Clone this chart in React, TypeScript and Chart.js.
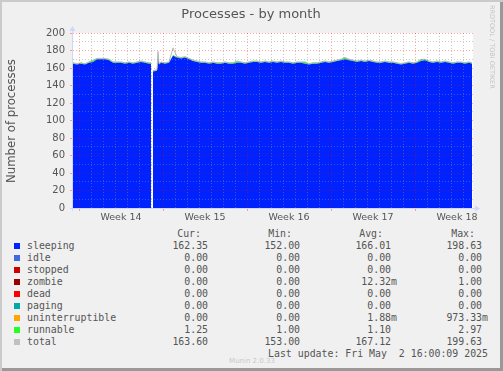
import React, { useEffect, useRef } from "react";
import { Chart, registerables } from "chart.js";

Chart.register(...registerables);

// Sample times in hours from the left edge of the graph (2 h per pixel)
const HOURS = [
  0, 8, 16, 24, 32, 40, 48, 56, 64, 72,
  80, 88, 96, 104, 112, 120, 128, 136, 144, 152,
  156, 158, 160, 168, 170, 172, 176, 184, 192, 200,
  208, 216, 224, 232, 240, 248, 256, 264, 272, 280,
  288, 296, 304, 312, 320, 328, 336, 344, 352, 360,
  368, 376, 384, 392, 400, 408, 416, 424, 432, 440,
  448, 456, 464, 472, 480, 488, 496, 504, 512, 520,
  528, 536, 544, 552, 560, 568, 576, 584, 592, 600,
  608, 616, 624, 632, 640, 648, 656, 664, 672, 680,
  688, 696, 704, 712, 720, 728, 736, 744, 752, 760,
  768, 776, 784, 792, 798,
];

const SLEEPING = [
  165, 164, 165, 164, 166, 167, 170, 170, 170, 169,
  166, 166, 166, 165, 166, 165, 166, 167, 166, 165,
  165, null, 156, 157, 175, 164, 166, 165, 166, 174,
  172, 171, 172, 170, 168, 167, 166, 166, 165, 166,
  165, 165, 166, 165, 165, 166, 166, 165, 166, 167,
  167, 166, 167, 166, 167, 166, 167, 166, 166, 165,
  166, 166, 165, 164, 165, 165, 166, 167, 166, 167,
  168, 169, 170, 169, 168, 167, 168, 167, 168, 167,
  166, 166, 167, 166, 166, 165, 164, 165, 166, 165,
  166, 168, 169, 167, 166, 167, 166, 167, 166, 165,
  166, 166, 165, 166, 165,
];

const RUNNABLE = [
  1, 1, 1, 1, 1, 2, 1, 1, 1, 1,
  1, 1, 1, 1, 1, 1, 1, 1, 1, 1,
  1, null, 1, 1, 3, 1, 1, 1, 1, 1,
  1, 1, 1, 1, 1, 1, 1, 1, 1, 1,
  1, 1, 1, 1, 1, 2, 1, 1, 1, 1,
  1, 1, 1, 1, 1, 1, 1, 1, 1, 1,
  1, 1, 2, 1, 1, 1, 1, 1, 1, 1,
  1, 1, 2, 1, 1, 1, 1, 1, 1, 1,
  1, 1, 1, 1, 1, 1, 1, 1, 1, 1,
  1, 2, 1, 1, 1, 1, 1, 1, 1, 1,
  1, 1, 1, 1, 1,
];

const TOTAL = [
  166, 165, 166, 165, 167, 169, 171, 171, 171, 170,
  167, 167, 167, 166, 167, 166, 167, 168, 167, 166,
  166, null, 157, 158, 179, 165, 167, 166, 167, 183,
  173, 172, 173, 171, 169, 168, 167, 167, 166, 167,
  166, 166, 167, 166, 166, 168, 167, 166, 167, 168,
  168, 167, 168, 167, 168, 167, 168, 167, 167, 166,
  167, 167, 167, 165, 166, 166, 167, 168, 167, 168,
  169, 170, 172, 170, 169, 168, 169, 168, 169, 168,
  167, 167, 168, 167, 167, 166, 165, 166, 167, 166,
  167, 170, 170, 168, 167, 168, 167, 168, 167, 166,
  167, 167, 166, 167, 166,
];

const X_MAX_HOURS = 800;
const DAY_LINES = Array.from({ length: 33 }, (_, k) => 12 + 24 * k);
const WEEK_LINES = [12, 180, 348, 516, 684];
const WEEK_LABEL_HOURS = [96, 264, 432, 600, 768];
const WEEK_LABELS = ["Week 14", "Week 15", "Week 16", "Week 17", "Week 18"];
const Y_GRID = [0, 10, 20, 30, 40, 50, 60, 70, 80, 90, 100, 110, 120, 130, 140, 150, 160, 170, 180, 190, 200];

const LEGEND_NAMES = ["sleeping", "idle", "stopped", "zombie", "dead", "paging", "uninterruptible", "runnable", "total"];
const LEGEND_COLORS = ["#0022ff", "#4169e1", "#cc0000", "#990000", "#ff0000", "#00aaaa", "#ffa500", "#22ff22", "#c0c0c0"];
const CUR = ["162.35", "0.00", "0.00", "0.00", "0.00", "0.00", "0.00", "1.25", "163.60"];
const MIN = ["152.00", "0.00", "0.00", "0.00", "0.00", "0.00", "0.00", "1.00", "153.00"];
const AVG = ["166.01", "0.00", "0.00", "12.32m", "0.00", "0.00", "1.88m", "1.10", "167.12"];
const MAX = ["198.63", "0.00", "0.00", "1.00", "0.00", "0.00", "973.33m", "2.97", "199.63"];

const FONT = "'DejaVu Sans', sans-serif";
const MONO = "'DejaVu Sans Mono', monospace";
const TEXT = "#555";
const MINOR = "rgba(140,140,140,0.45)";
const MAJOR = "rgba(255,0,0,0.35)";

const plotBg = {
  id: "plotBg",
  beforeDraw(chart: any) {
    const { ctx, chartArea: a } = chart;
    ctx.save();
    ctx.fillStyle = "#ffffff";
    ctx.fillRect(a.left, a.top, a.right - a.left, a.bottom - a.top);
    ctx.restore();
  },
};

const axesPlugin = {
  id: "axesArrows",
  afterDraw(chart: any) {
    const { ctx, chartArea: a } = chart;
    ctx.save();
    ctx.strokeStyle = "#cfd6f8";
    ctx.fillStyle = "#cfd6f8";
    ctx.lineWidth = 1;
    ctx.beginPath();
    ctx.moveTo(a.left - 3, a.bottom + 0.5);
    ctx.lineTo(a.right + 3, a.bottom + 0.5);
    ctx.stroke();
    ctx.beginPath();
    ctx.moveTo(a.left - 0.5, a.bottom + 3);
    ctx.lineTo(a.left - 0.5, a.top - 3);
    ctx.stroke();
    ctx.beginPath();
    ctx.moveTo(a.right + 2, a.bottom - 2.5);
    ctx.lineTo(a.right + 7, a.bottom + 0.5);
    ctx.lineTo(a.right + 2, a.bottom + 3.5);
    ctx.closePath();
    ctx.fill();
    ctx.beginPath();
    ctx.moveTo(a.left - 3.5, a.top - 2);
    ctx.lineTo(a.left - 0.5, a.top - 7);
    ctx.lineTo(a.left + 2.5, a.top - 2);
    ctx.closePath();
    ctx.fill();
    ctx.restore();
  },
};

function Txt(props: {
  x: number;
  base: number;
  size: number;
  align?: "left" | "right" | "center";
  mono?: boolean;
  color?: string;
  children: React.ReactNode;
}) {
  const { x, base, size, align = "left", mono, color = TEXT, children } = props;
  const L = Math.ceil(size * 1.3);
  const off = (L - 1.164 * size) / 2 + 0.928 * size;
  const W = 400;
  const left = align === "left" ? x : align === "right" ? x - W : x - W / 2;
  return (
    <div
      style={{
        position: "absolute",
        left,
        top: base - off,
        width: W,
        height: L,
        lineHeight: L + "px",
        fontSize: size,
        fontFamily: mono ? MONO : FONT,
        color,
        textAlign: align,
        whiteSpace: "pre",
      }}
    >
      {children}
    </div>
  );
}

const pad = (s: string) => (s.endsWith("m") ? s : s + " ");

export default function App() {
  const ref = useRef<HTMLCanvasElement>(null);

  useEffect(() => {
    const canvas = ref.current;
    if (!canvas) return;
    const pts = (arr: (number | null)[]) => HOURS.map((h, i) => ({ x: h, y: arr[i] }));
    const xTicks = [...DAY_LINES, ...WEEK_LABEL_HOURS].sort((a, b) => a - b);
    const chart = new Chart(canvas, {
      type: "line",
      data: {
        datasets: [
          {
            label: "total",
            data: pts(TOTAL),
            stack: "total",
            borderColor: "#b8b8b8",
            borderWidth: 1,
            pointRadius: 0,
            fill: false,
            tension: 0,
          },
          {
            label: "sleeping",
            data: pts(SLEEPING),
            stack: "procs",
            backgroundColor: "#0022ff",
            borderColor: "rgba(0,0,0,0)",
            borderWidth: 0,
            pointRadius: 0,
            fill: "origin",
            tension: 0,
          },
          {
            label: "runnable",
            data: pts(RUNNABLE),
            stack: "procs",
            backgroundColor: "#22ff22",
            borderColor: "rgba(0,0,0,0)",
            borderWidth: 0,
            pointRadius: 0,
            fill: "-1",
            tension: 0,
          },
        ] as any,
      },
      options: {
        animation: false,
        responsive: false,
        events: [],
        layout: { padding: { top: 33, left: 0, right: 30, bottom: 0 } },
        plugins: { legend: { display: false }, tooltip: { enabled: false } },
        scales: {
          x: {
            type: "linear",
            min: 0,
            max: X_MAX_HOURS,
            afterFit: (s: any) => {
              s.height = 17;
            },
            afterBuildTicks: (s: any) => {
              s.ticks = xTicks.map((v) => ({ value: v }));
            },
            ticks: {
              autoSkip: false,
              maxRotation: 0,
              minRotation: 0,
              padding: 1,
              color: TEXT,
              font: { family: "DejaVu Sans", size: 9.5 },
              callback: (v: any) => {
                const i = WEEK_LABEL_HOURS.indexOf(Number(v));
                return i >= 0 ? WEEK_LABELS[i] : "";
              },
            },
            grid: {
              z: 1,
              lineWidth: 1,
              tickLength: 3,
              color: (c: any) => {
                const v = c.tick ? c.tick.value : -1;
                if (WEEK_LABEL_HOURS.includes(v)) return "rgba(0,0,0,0)";
                return WEEK_LINES.includes(v) ? MAJOR : MINOR;
              },
              tickColor: (c: any) => {
                const v = c.tick ? c.tick.value : -1;
                return WEEK_LINES.includes(v) ? MAJOR : "rgba(0,0,0,0)";
              },
            },
            border: { display: false, dash: [1, 2] },
          } as any,
          y: {
            type: "linear",
            stacked: true,
            min: 0,
            max: 200,
            afterFit: (s: any) => {
              s.width = 73;
            },
            afterBuildTicks: (s: any) => {
              s.ticks = Y_GRID.map((v) => ({ value: v }));
            },
            ticks: {
              autoSkip: false,
              padding: 5,
              color: TEXT,
              font: { family: "DejaVu Sans", size: 10 },
              callback: (v: any) => (Number(v) % 20 === 0 ? String(v) : ""),
            },
            grid: {
              z: 1,
              lineWidth: 1,
              tickLength: 3,
              color: (c: any) => {
                const v = c.tick ? c.tick.value : -1;
                return v % 20 === 0 ? MAJOR : MINOR;
              },
              tickColor: (c: any) => {
                const v = c.tick ? c.tick.value : -1;
                return v % 20 === 0 ? MAJOR : "rgba(0,0,0,0)";
              },
            },
            border: { display: false, dash: [1, 2] },
          } as any,
        },
      },
      plugins: [plotBg, axesPlugin],
    });
    return () => chart.destroy();
  }, []);

  const ROW0 = 249;
  const STEP = 12;

  return (
    <div
      style={{
        position: "absolute",
        left: 0,
        top: 0,
        width: 503,
        height: 371,
        background: "#f0f0f0",
        boxShadow: "inset 2px 2px 0 #cbcbcb, inset -3px -3px 0 #999999",
        overflow: "hidden",
      }}
    >
      <canvas ref={ref} width={503} height={225} style={{ position: "absolute", left: 0, top: 0, width: 503, height: 225 }} />
      <Txt x={251} base={18.3} size={13} align="center">Processes - by month</Txt>
      <div
        style={{
          position: "absolute",
          left: 11 - 100,
          top: 120.5 - 8,
          width: 200,
          height: 16,
          lineHeight: "16px",
          fontSize: 11.7,
          fontFamily: FONT,
          color: TEXT,
          textAlign: "center",
          transform: "rotate(-90deg)",
          whiteSpace: "nowrap",
        }}
      >
        Number of processes
      </div>
      <div
        style={{
          position: "absolute",
          left: 488,
          top: 5,
          writingMode: "vertical-rl",
          fontSize: 6.5,
          lineHeight: "8px",
          fontFamily: FONT,
          color: "#c4c4c4",
          whiteSpace: "nowrap",
        }}
      >
        RRDTOOL / TOBI OETIKER
      </div>
      <Txt x={201} base={237} size={9.9} align="right" mono>Cur:</Txt>
      <Txt x={292} base={237} size={9.9} align="right" mono>Min:</Txt>
      <Txt x={383} base={237} size={9.9} align="right" mono>Avg:</Txt>
      <Txt x={475} base={237} size={9.9} align="right" mono>Max:</Txt>
      {LEGEND_NAMES.map((name, i) => {
        const b = ROW0 + STEP * i;
        return (
          <React.Fragment key={name}>
            <div style={{ position: "absolute", left: 14, top: b - 6, width: 6, height: 6, background: LEGEND_COLORS[i] }} />
            <Txt x={27} base={b} size={9.9} mono>{name}</Txt>
            <Txt x={214} base={b} size={9.9} align="right" mono>{pad(CUR[i])}</Txt>
            <Txt x={306} base={b} size={9.9} align="right" mono>{pad(MIN[i])}</Txt>
            <Txt x={397} base={b} size={9.9} align="right" mono>{pad(AVG[i])}</Txt>
            <Txt x={488} base={b} size={9.9} align="right" mono>{pad(MAX[i])}</Txt>
          </React.Fragment>
        );
      })}
      <Txt x={488} base={357} size={9.9} align="right" mono>{"Last update: Fri May  2 16:00:09 2025"}</Txt>
      <Txt x={252} base={363} size={7} align="center" color="#c8c8c8">Munin 2.0.33</Txt>
    </div>
  );
}
